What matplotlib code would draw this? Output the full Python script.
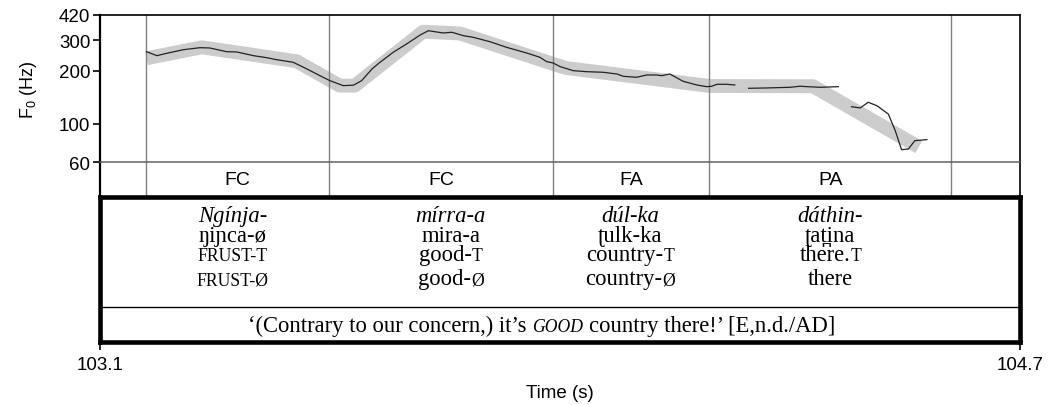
import numpy as np
import matplotlib.pyplot as plt
from matplotlib.ticker import NullLocator

# ---------------- data ----------------

# F0 track, three voiced stretches (time in s, F0 in Hz)
t_v1 = [103.181, 103.199, 103.216, 103.245, 103.274, 103.291, 103.320, 103.338,
        103.367, 103.390, 103.407, 103.436, 103.460, 103.488, 103.500, 103.523,
        103.541, 103.555, 103.573, 103.587, 103.610, 103.633, 103.657, 103.671,
        103.697, 103.712, 103.732, 103.749, 103.778, 103.807, 103.842, 103.865,
        103.877, 103.888, 103.900, 103.923, 103.946, 103.975, 103.999, 104.010,
        104.033, 104.051, 104.068, 104.077, 104.091, 104.114, 104.138, 104.155,
        104.164, 104.173, 104.190, 104.204]
f_v1 = [257.9, 244.7, 252.5, 264.8, 271.9, 270.8, 257.9, 256.9,
        244.7, 238.3, 232.1, 224.3, 205.3, 184.0, 176.0, 164.8,
        166.0, 176.0, 205.3, 224.3, 255.9, 285.4, 321.5, 340.1,
        330.1, 333.2, 318.5, 311.8, 294.2, 273.3, 253.5, 239.6,
        226.1, 222.3, 212.0, 200.8, 198.2, 196.6, 192.2, 186.5,
        184.0, 189.7, 189.7, 188.0, 192.2, 174.6, 166.3, 162.6,
        163.5, 167.8, 167.8, 166.3]

t_v2 = [104.228, 104.260, 104.300, 104.317, 104.352, 104.384]
f_v2 = [159.2, 159.9, 161.3, 163.5, 161.3, 162.6]

t_v3 = [104.407, 104.422, 104.436, 104.451, 104.471, 104.483, 104.494, 104.506, 104.517, 104.538]
f_v3 = [124.9, 122.8, 132.4, 126.6, 113.4, 91.1, 70.9, 71.5, 79.8, 80.9]

# stylised contour (grey band)
t_sty = [103.181, 103.277, 103.442, 103.517, 103.543, 103.662, 103.726, 103.910, 104.161, 104.340, 104.524]
f_sty = [236.4, 273.3, 227.3, 164.8, 164.8, 335.8, 327.9, 208.1, 164.0, 163.5, 73.4]

# interval tier
bounds = [103.180, 103.499, 103.888, 104.160, 104.580]
tier_labels = ["FC", "FC", "FA", "PA"]

# glosses, one column per word
gloss_x = [103.331, 103.710, 104.022, 104.370]
orth = ["Ngínja-", "mírra-a", "dúl-ka", "dáthin-"]
ipa = ["ŋiɲca-ø", "mira-a", "ʈulk-ka", "ʈat\u032aina"]
gloss_t = [[("FRUST-T", "sc")], [("good-", "n"), ("T", "sc")],
           [("country-", "n"), ("T", "sc")], [("there.", "n"), ("T", "sc")]]
gloss_0 = [[("FRUST-Ø", "sc")], [("good-", "n"), ("Ø", "sc")],
           [("country-", "n"), ("Ø", "sc")], [("there", "n")]]
translation = [("‘(Contrary to our concern,) it’s ", "n"), ("GOOD", "isc"),
               (" country there!’ [E,n.d./AD]", "n")]

yticks = [60, 100, 200, 300, 420]
t0, t1 = 103.1, 104.7

# ---------------- figure ----------------

sans = ['Liberation Sans', 'DejaVu Sans']
serif = ['Liberation Serif', 'DejaVu Serif']
plt.rcParams['font.family'] = sans
plt.rcParams['mathtext.default'] = 'regular'

fig = plt.figure(figsize=(10.6, 4.06), dpi=100)
L, W = 100/1060, 920/1060
ax_p = fig.add_axes([L, 0.59778, W, 0.36355])
ax_t = fig.add_axes([L, 0.51182, W, 0.08596])
ax_b = fig.add_axes([L, 0.15640, W, 0.35542])
ax_t.patch.set_visible(False)

# pitch panel
ax_p.set_yscale('log')
ax_p.set_xlim(t0, t1)
ax_p.set_ylim(60, 420)
ax_p.plot(t_sty, f_sty, color='#cccccc', lw=10, solid_capstyle='butt', zorder=1)
for b in bounds:
    ax_p.axvline(b, color='#808080', lw=1.0, zorder=2)
for tt, ff in [(t_v1, f_v1), (t_v2, f_v2), (t_v3, f_v3)]:
    ax_p.plot(tt, ff, color='#222222', lw=0.9, zorder=3)
ax_p.set_yticks(yticks)
ax_p.set_yticklabels([str(v) for v in yticks])
ax_p.yaxis.set_minor_locator(NullLocator())
ax_p.set_xticks([])
ax_p.tick_params(axis='y', length=5, width=1.2, labelsize=13.5, pad=2)
ax_p.set_ylabel(r'F$_{0}$ (Hz)', fontsize=13, labelpad=14)
ax_p.spines['left'].set_linewidth(1.6)
ax_p.spines['top'].set_linewidth(1.2)
ax_p.spines['right'].set_linewidth(1.2)
ax_p.spines['bottom'].set_visible(False)

# interval tier
ax_t.set_xlim(t0, t1)
ax_t.set_ylim(0, 1)
for b in bounds:
    ax_t.axvline(b, color='#808080', lw=1.0)
for i, lab in enumerate(tier_labels):
    ax_t.text((bounds[i] + bounds[i+1]) / 2, 0.5, lab, ha='center', va='center', fontsize=14)
ax_t.set_xticks([])
ax_t.set_yticks([])
ax_t.spines['left'].set_linewidth(1.6)
ax_t.spines['right'].set_linewidth(1.2)
ax_t.spines['top'].set_linewidth(1.1)
ax_t.spines['top'].set_color('#606060')
ax_t.spines['bottom'].set_visible(False)

# gloss box
ax_b.set_xlim(t0, t1)
ax_b.set_ylim(0, 1)
for s in ax_b.spines.values():
    s.set_linewidth(3.3)
ax_b.axhline(0.241, color='black', lw=1.0)
ax_b.set_yticks([])
ax_b.set_xticks([t0, t1])
ax_b.set_xticklabels(["103.1", "104.7"])
ax_b.tick_params(axis='x', length=5.5, width=1.2, labelsize=13.5, pad=5)
ax_b.set_xlabel("Time (s)", fontsize=13.5, labelpad=8)

gsize = 16.3

def style(kind):
    if kind == 'sc':
        return dict(family=serif, size=gsize*0.78)
    if kind == 'isc':
        return dict(family=serif, size=gsize*0.78, style='italic')
    if kind == 'it':
        return dict(family=serif, size=gsize, style='italic')
    return dict(family=serif, size=gsize)

renderer = fig.canvas.get_renderer()

def width_pt(s, kw):
    t = fig.text(0, 0, s, **kw)
    w = t.get_window_extent(renderer).width
    t.remove()
    return w * 72.0 / fig.dpi

# draw a line made of several runs (small caps etc.), centred on x
def put_runs(x, y, runs):
    pieces = []
    total = 0
    for s, kind in runs:
        kw = style(kind)
        sp = width_pt("| |", kw) - width_pt("||", kw)
        core = s.strip(' ')
        lead = (len(s) - len(s.lstrip(' '))) * sp
        trail = (len(s) - len(s.rstrip(' '))) * sp
        cw = width_pt("|" + core + "|", kw) - width_pt("||", kw)
        pieces.append((core, kw, lead, cw, trail))
        total += lead + cw + trail
    off = -total / 2
    for core, kw, lead, cw, trail in pieces:
        off += lead
        ax_b.annotate(core, (x, y), xycoords='data', xytext=(off, 0),
                      textcoords='offset points', ha='left', va='baseline', **kw)
        off += cw + trail

for i in range(len(gloss_x)):
    put_runs(gloss_x[i], 0.837, [(orth[i], 'it')])
    put_runs(gloss_x[i], 0.699, [(ipa[i], 'n')])
    put_runs(gloss_x[i], 0.567, gloss_t[i])
    put_runs(gloss_x[i], 0.398, gloss_0[i])
put_runs(103.868, 0.075, translation)

fig.savefig('out.png', dpi=100)
